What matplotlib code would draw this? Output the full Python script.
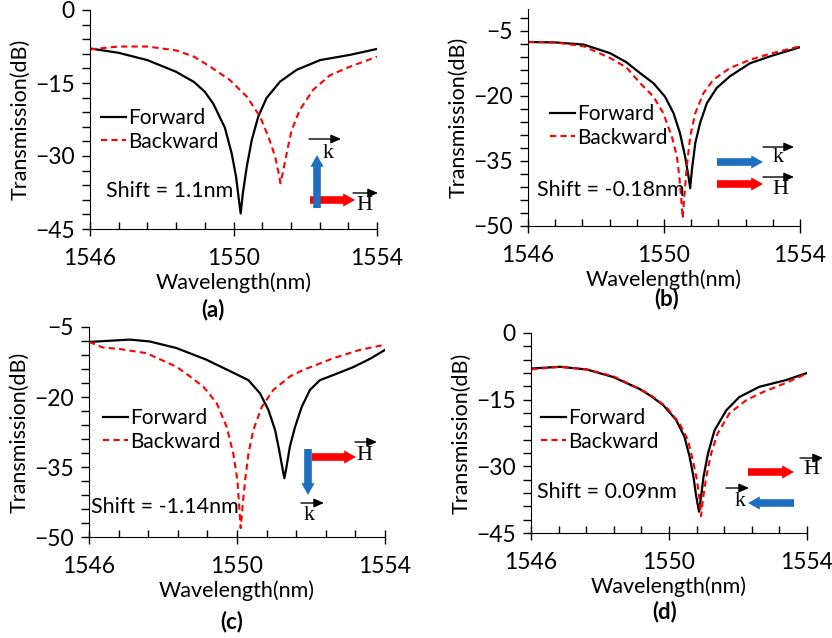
import numpy as np
import matplotlib
matplotlib.use("Agg")
import matplotlib.pyplot as plt
from matplotlib.ticker import FixedLocator
from matplotlib.patches import FancyArrowPatch

plt.rcParams['font.family'] = ['Lato', 'DejaVu Sans']

W, H = 832, 638

# ---- data (wavelength nm, transmission dB) ----
a_fwd_x = [1546.0, 1546.8, 1547.6, 1548.4, 1548.9, 1549.2, 1549.44, 1549.76, 1549.95, 1550.07,
           1550.14, 1550.2, 1550.26, 1550.37, 1550.51, 1550.69, 1550.92, 1551.3, 1551.76, 1552.41,
           1553.26, 1554.0]
a_fwd_y = [-7.9, -8.8, -10.3, -12.7, -14.8, -16.8, -19.3, -24.2, -29.5, -34.2,
           -38.4, -41.8, -37.7, -32.2, -26.7, -21.9, -18.1, -14.7, -12.3, -10.3,
           -9.2, -8.0]
a_bwd_x = [1546.0, 1546.8, 1547.6, 1548.4, 1548.9, 1549.34, 1549.9, 1550.37, 1550.74, 1550.97,
           1551.16, 1551.26, 1551.31, 1551.39, 1551.5, 1551.62, 1551.85, 1552.22, 1552.69, 1553.26,
           1554.0]
a_bwd_y = [-8.1, -7.5, -7.5, -8.3, -9.6, -11.6, -14.4, -17.8, -21.9, -26.0,
           -30.1, -33.6, -35.6, -32.9, -28.8, -24.7, -20.5, -16.4, -13.4, -11.6,
           -9.6]

b_fwd_x = [1546.0, 1546.8, 1547.64, 1548.42, 1548.9, 1549.3, 1549.69, 1550.03, 1550.28, 1550.47,
           1550.62, 1550.72, 1550.77, 1550.82, 1550.92, 1551.06, 1551.26, 1551.55, 1551.94, 1552.53,
           1553.12, 1554.0]
b_fwd_y = [-7.6, -7.7, -8.2, -10.2, -12.3, -14.8, -17.1, -20.2, -24.0, -28.6,
           -34.0, -38.6, -41.3, -37.1, -30.9, -26.3, -21.7, -18.2, -15.5, -12.5,
           -10.9, -8.8]
b_bwd_x = [1546.0, 1546.8, 1547.64, 1548.42, 1548.9, 1549.3, 1549.69, 1549.98, 1550.23, 1550.38,
           1550.45, 1550.51, 1550.55, 1550.59, 1550.67, 1550.77, 1550.92, 1551.16, 1551.45, 1551.94,
           1552.53, 1553.12, 1554.0]
b_bwd_y = [-7.6, -7.7, -8.6, -11.3, -13.5, -17.1, -20.2, -24.0, -29.4, -34.0,
           -38.6, -44.0, -48.2, -44.0, -36.3, -29.4, -24.0, -19.4, -16.3, -13.6,
           -11.7, -10.3, -8.6]

c_fwd_x = [1546.0, 1547.1, 1547.64, 1548.36, 1549.17, 1549.9, 1550.31, 1550.62, 1550.85, 1551.03,
           1551.14, 1551.22, 1551.28, 1551.34, 1551.43, 1551.57, 1551.75, 1551.97, 1552.24, 1552.6,
           1553.14, 1553.6, 1554.0]
c_fwd_y = [-8.2, -7.7, -8.1, -9.5, -12.0, -14.8, -16.4, -19.2, -22.8, -27.1,
           -31.4, -34.9, -37.4, -34.9, -30.6, -26.4, -22.1, -18.5, -16.4, -15.3,
           -13.6, -11.8, -9.9]
c_bwd_x = [1546.0, 1546.38, 1546.81, 1547.55, 1548.36, 1548.73, 1549.09, 1549.45, 1549.72, 1549.9,
           1550.01, 1550.06, 1550.1, 1550.15, 1550.22, 1550.31, 1550.44, 1550.67, 1550.98, 1551.43,
           1551.79, 1552.6, 1553.32, 1554.0]
c_bwd_y = [-8.2, -9.4, -9.7, -10.6, -13.5, -15.6, -17.8, -21.3, -26.4, -32.1,
           -37.8, -43.5, -48.1, -43.5, -37.8, -32.1, -27.1, -22.1, -18.5, -15.6,
           -14.2, -11.7, -9.9, -8.8]

d_fwd_x = [1546.0, 1546.84, 1547.61, 1548.38, 1549.15, 1549.44, 1549.83, 1550.21, 1550.45, 1550.6,
           1550.71, 1550.79, 1550.87, 1550.93, 1551.0, 1551.13, 1551.32, 1551.66, 1552.04, 1552.62,
           1553.39, 1554.0]
d_fwd_y = [-8.0, -7.6, -8.2, -9.9, -12.6, -14.0, -16.2, -19.6, -23.4, -27.9,
           -32.4, -36.8, -40.2, -36.8, -32.4, -27.1, -21.9, -17.4, -14.4, -12.1,
           -10.6, -9.0]
d_bwd_x = [1546.0, 1546.84, 1547.61, 1548.38, 1549.15, 1549.44, 1549.92, 1550.31, 1550.55, 1550.69,
           1550.81, 1550.89, 1550.93, 1550.98, 1551.08, 1551.22, 1551.41, 1551.75, 1552.24, 1552.72,
           1553.4, 1554.0]
d_bwd_y = [-8.2, -7.6, -8.2, -9.7, -12.6, -13.8, -16.6, -20.4, -24.1, -28.6,
           -33.1, -37.6, -41.2, -37.6, -32.4, -27.1, -22.6, -18.1, -15.1, -13.3,
           -11.2, -9.1]

panel_labels = ['(a)', '(b)', '(c)', '(d)']
shift_texts = ['Shift = 1.1nm', 'Shift = -0.18nm', 'Shift = -1.14nm', 'Shift = 0.09nm']
ylims = [(-45, 0), (-50, 0), (-50, -5), (-45, 0)]
yticks = [[0, -15, -30, -45], [-5, -20, -35, -50], [-5, -20, -35, -50], [0, -15, -30, -45]]

# axes boxes in pixels: left, top, right, bottom
boxes = [(90, 10, 377, 229), (528, 9, 800, 226), (89, 327, 385, 537), (531, 333, 807, 533)]

BLUE = '#1f6fc0'
RED = '#ff0000'


def fp(x, y):
    return (x / W, 1 - y / H)


fig = plt.figure(figsize=(8.32, 6.38), dpi=100)

data = [(a_fwd_x, a_fwd_y, a_bwd_x, a_bwd_y), (b_fwd_x, b_fwd_y, b_bwd_x, b_bwd_y),
        (c_fwd_x, c_fwd_y, c_bwd_x, c_bwd_y), (d_fwd_x, d_fwd_y, d_bwd_x, d_bwd_y)]

axes = []
for i, (l, t, r, b) in enumerate(boxes):
    ax = fig.add_axes([l / W, 1 - b / H, (r - l) / W, (b - t) / H])
    fx, fy, bx, by = data[i]
    ax.plot(fx, fy, color='black', lw=1.6, label='Forward')
    ax.plot(bx, by, color=RED, lw=1.5, ls=(0, (3, 2)), label='Backward')
    ax.set_xlim(1546, 1554)
    ax.set_ylim(*ylims[i])
    ax.set_xticks([1546, 1550, 1554])
    ax.xaxis.set_minor_locator(FixedLocator(np.arange(1546, 1554.01, 0.8)))
    ax.set_yticks(yticks[i])
    lo, hi = ylims[i]
    ax.yaxis.set_minor_locator(FixedLocator(np.arange(lo, hi + 0.01, 3)))
    for s in ['top', 'right']:
        ax.spines[s].set_visible(False)
    ax.tick_params(axis='x', which='major', direction='inout', length=10, width=1.0,
                   labelsize=16.5, pad=9)
    ax.tick_params(axis='x', which='minor', direction='in', length=5, width=1.0)
    ax.tick_params(axis='y', which='major', direction='out', length=6, width=1.0,
                   labelsize=16.5, pad=5)
    ax.tick_params(axis='y', which='minor', direction='out', length=6, width=1.0)
    ax.set_xlabel('Wavelength(nm)', fontsize=15.5, labelpad=2)
    ax.set_ylabel('Transmission(dB)', fontsize=15.5, labelpad=3)
    ax.patch.set_alpha(0)
    axes.append(ax)

# legends
leg_pos = [(101, 108), (550, 104), (103, 408), (541, 408)]
for ax, (x, y) in zip(axes, leg_pos):
    ax.legend(loc='upper left', bbox_to_anchor=fp(x, y), bbox_transform=fig.transFigure,
              frameon=False, fontsize=15, handlelength=1.2, handletextpad=0.1,
              borderpad=0, labelspacing=0.18, borderaxespad=0)

# shift text
shift_pos = [(106, 191), (537, 190), (91, 507), (537, 492)]
for (x, y), s in zip(shift_pos, shift_texts):
    fig.text(*fp(x, y), s, fontsize=15.5, va='center', ha='left')

# panel letters
lab_pos = [(213, 310), (667, 299), (232, 622), (665, 612)]
for (x, y), s in zip(lab_pos, panel_labels):
    fig.text(*fp(x, y), s, fontsize=16, fontweight='bold', ha='center', va='center')


def thick(x0, y0, x1, y1, color):
    fig.add_artist(FancyArrowPatch(
        fp(x0, y0), fp(x1, y1), transform=fig.transFigure,
        arrowstyle='simple,head_length=0.85,head_width=0.95,tail_width=0.55',
        mutation_scale=10, color=color, lw=0, shrinkA=0, shrinkB=0))


def vec(x, y, letter, ax0, ax1, ay):
    fig.text(*fp(x, y), letter, fontsize=16, family='Liberation Serif', ha='center', va='center')
    fig.add_artist(FancyArrowPatch(
        fp(ax0, ay), fp(ax1, ay), transform=fig.transFigure,
        arrowstyle='-|>,head_length=0.5,head_width=0.22', mutation_scale=12,
        color='black', lw=1.0, shrinkA=0, shrinkB=0))


# (a)
thick(310, 200, 355, 200, RED)
thick(317, 208, 317, 155, BLUE)
vec(328, 154, 'k', 309, 341, 139)
vec(364, 205, 'H', 353, 378, 193)
# (b)
thick(717, 162, 763, 162, BLUE)
thick(717, 184, 763, 184, RED)
vec(778, 158, 'k', 763, 794, 147)
vec(780, 190, 'H', 763, 794, 177)
# (c)
thick(312, 457, 356, 457, RED)
thick(308, 449, 308, 495, BLUE)
vec(364, 455, 'H', 355, 377, 442)
vec(309, 515, 'k', 301, 324, 503)
# (d)
thick(748, 472, 794, 472, RED)
thick(794, 503, 748, 503, BLUE)
vec(811, 470, 'H', 800, 823, 458)
vec(740, 502, 'k', 726, 749, 488)

fig.savefig('out.png', dpi=100)
